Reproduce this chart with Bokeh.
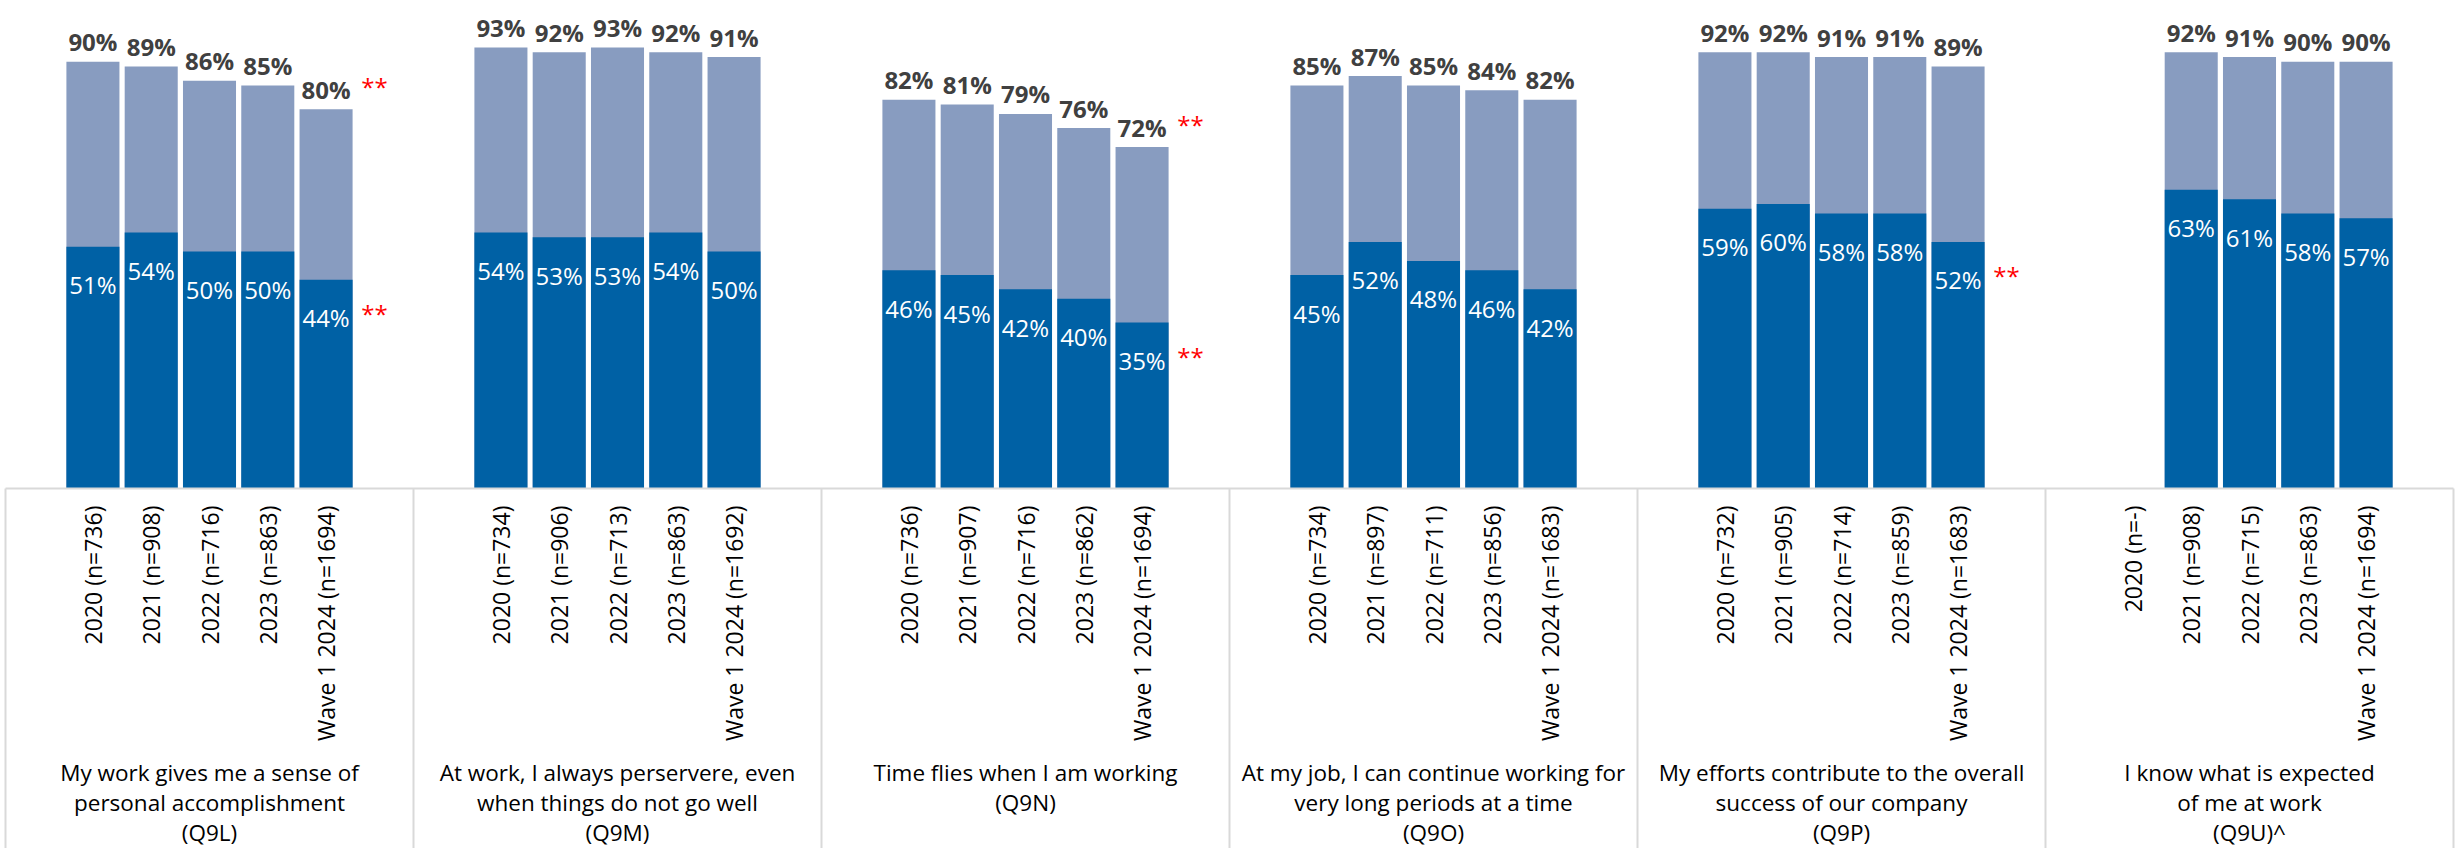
import math
from bokeh.plotting import figure
from bokeh.models import ColumnDataSource, Range1d
from bokeh.core.properties import value
from bokeh.embed import file_html
from bokeh.resources import INLINE

# ---------------- data ----------------
years = ["2020", "2021", "2022", "2023", "Wave 1 2024"]
title_lines = [
    ["My work gives me a sense of", "personal accomplishment", "(Q9L)"],
    ["At work, I always perservere, even", "when things do not go well", "(Q9M)"],
    ["Time flies when I am working", "(Q9N)"],
    ["At my job, I can continue working for", "very long periods at a time", "(Q9O)"],
    ["My efforts contribute to the overall", "success of our company", "(Q9P)"],
    ["I know what is expected", "of me at work", "(Q9U)^"],
]
n_sizes = [
    ["736", "908", "716", "863", "1694"],
    ["734", "906", "713", "863", "1692"],
    ["736", "907", "716", "862", "1694"],
    ["734", "897", "711", "856", "1683"],
    ["732", "905", "714", "859", "1683"],
    ["-", "908", "715", "863", "1694"],
]
totals = [
    [90, 89, 86, 85, 80],
    [93, 92, 93, 92, 91],
    [82, 81, 79, 76, 72],
    [85, 87, 85, 84, 82],
    [92, 92, 91, 91, 89],
    [None, 92, 91, 90, 90],
]
top_box = [
    [51, 54, 50, 50, 44],
    [54, 53, 53, 54, 50],
    [46, 45, 42, 40, 35],
    [45, 52, 48, 46, 42],
    [59, 60, 58, 58, 52],
    [None, 63, 61, 58, 57],
]
# significance flags on the latest wave: (total, top box)
sig_total = [True, False, True, False, False, False]
sig_top = [True, False, True, False, True, False]

# ---------------- layout constants ----------------
SLOTS = 7            # 5 bars + 1 blank slot each side
BAR_W = 0.91
DARK = "#0061A5"
LIGHT = "#889CC0"
GRAY_TXT = "#404040"
BORDER = "#D9D9D9"
FONT = "Open Sans"

W, H = 2458, 848
PX_PER_SLOT = (2453 - 5) / (6 * SLOTS)
PX_PER_PCT = 4.742
BASE_PX = 488
x_start = -5 / PX_PER_SLOT
y_start = (BASE_PX - H) / PX_PER_PCT
y_end = BASE_PX / PX_PER_PCT

p = figure(width=W, height=H, output_backend="svg", toolbar_location=None,
           x_range=Range1d(x_start, x_start + W / PX_PER_SLOT),
           y_range=Range1d(y_start, y_end),
           min_border=0, min_border_left=0, min_border_right=0,
           min_border_top=0, min_border_bottom=0)
p.xaxis.visible = False
p.yaxis.visible = False
p.xgrid.visible = False
p.ygrid.visible = False
p.outline_line_color = None
p.background_fill_color = "white"
p.border_fill_color = "white"

# ---------------- bars ----------------
bx, btot, btop, tot_lbl, top_lbl = [], [], [], [], []
cat_x, cat_txt = [], []
for g in range(len(totals)):
    for j in range(len(years)):
        xc = g * SLOTS + 1 + j + 0.5
        cat_x.append(xc)
        cat_txt.append(f"{years[j]} (n={n_sizes[g][j]})")
        if totals[g][j] is None:
            continue
        bx.append(xc)
        btot.append(totals[g][j])
        btop.append(top_box[g][j])
        tot_lbl.append(f"{totals[g][j]}%")
        top_lbl.append(f"{top_box[g][j]}%")

src = ColumnDataSource(dict(x=bx, tot=btot, top=btop, tl=tot_lbl, vl=top_lbl,
                            ty=[t + 4.2 for t in btot], vy=[v - 8.0 for v in btop]))

p.vbar(x="x", width=BAR_W, bottom=0, top="tot", source=src,
       fill_color=LIGHT, line_color=None)
p.vbar(x="x", width=BAR_W, bottom=0, top="top", source=src,
       fill_color=DARK, line_color=None)

p.text(x="x", y="ty", text="tl", source=src, text_align="center",
       text_baseline="alphabetic", text_font=value(FONT), text_font_style="bold",
       text_font_size="24px", text_color=GRAY_TXT)
p.text(x="x", y="vy", text="vl", source=src, text_align="center",
       text_baseline="alphabetic", text_font=value(FONT),
       text_font_size="24px", text_color="white")

# significance markers
sx, sy = [], []
for g in range(len(totals)):
    xr = g * SLOTS + 1 + (len(years) - 1) + 0.5 + BAR_W / 2 + 0.15
    if sig_total[g]:
        sx.append(xr)
        sy.append(totals[g][-1] + 4.7)
    if sig_top[g]:
        sx.append(xr)
        sy.append(top_box[g][-1] - 7.1)
p.text(x=sx, y=sy, text=["**"] * len(sx), text_align="left",
       text_baseline="alphabetic", text_font=value(FONT),
       text_font_size="24px", text_color="#FF0000")

# ---------------- category box ----------------
n_groups = len(totals)
p.segment(x0=[0], y0=[0], x1=[n_groups * SLOTS], y1=[0],
          line_color=BORDER, line_width=2)
p.segment(x0=[g * SLOTS for g in range(n_groups + 1)], y0=[0] * (n_groups + 1),
          x1=[g * SLOTS for g in range(n_groups + 1)], y1=[y_start] * (n_groups + 1),
          line_color=BORDER, line_width=2)

# rotated year labels
p.text(x=cat_x, y=[-3.6] * len(cat_x), text=cat_txt, angle=math.pi / 2,
       text_align="right", text_baseline="middle", text_font=value(FONT),
       text_font_size="23px", text_color="#000000")

# group titles
TITLE_TOP = (BASE_PX - 772) / PX_PER_PCT
LINE_STEP = 30 / PX_PER_PCT
tx, ty, tt = [], [], []
for g, lines in enumerate(title_lines):
    for i, line in enumerate(lines):
        tx.append(g * SLOTS + SLOTS / 2)
        ty.append(TITLE_TOP - i * LINE_STEP)
        tt.append(line)
p.text(x=tx, y=ty, text=tt, text_align="center", text_baseline="middle",
       text_font=value(FONT), text_font_size="22.5px", text_color="#000000")

open("out.html", "w").write(file_html(p, INLINE))
